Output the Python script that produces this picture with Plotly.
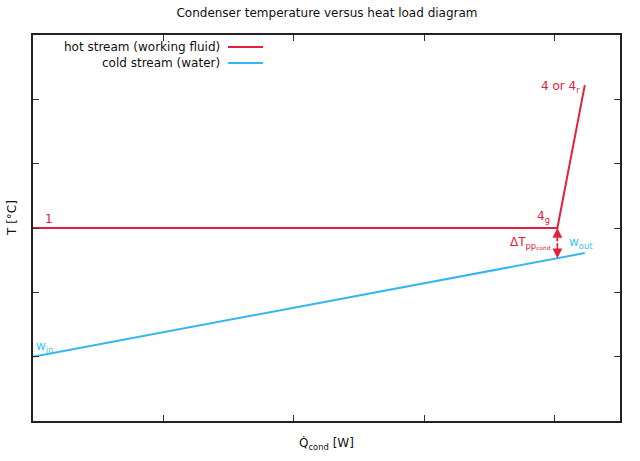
import plotly.graph_objects as go

# heat load [arbitrary units] / temperature [arbitrary units]
hot_q = [0.0, 4.02, 4.23]
hot_T = [3.0, 3.0, 5.22]
cold_q = [0.0, 4.23]
cold_T = [1.0, 2.61]
pinch_q = 4.02
pinch_T = [3.0, 2.53]

HOT = '#e3203b'
COLD = '#35b6f0'
COLD_TXT = '#3cc4ec'
FONT = 'DejaVu Sans'

# plot box in the window: x 33..620, y 35..421
PX0, PX1, PY0, PY1 = 33, 620, 35, 421
W, H = 640, 461


def px(x):
    return (x - PX0) / (PX1 - PX0)


def py(y):
    return (PY1 - y) / (PY1 - PY0)


fig = go.Figure()
fig.add_trace(go.Scatter(
    x=hot_q, y=hot_T, mode='lines', line=dict(color=HOT, width=2),
    name='hot stream (working fluid)', showlegend=False,
))
fig.add_trace(go.Scatter(
    x=cold_q, y=cold_T, mode='lines', line=dict(color=COLD, width=2),
    name='cold stream (water)', showlegend=False,
))
fig.add_trace(go.Scatter(
    x=[pinch_q, pinch_q], y=pinch_T, mode='lines',
    line=dict(color=HOT, width=1.5, dash='3px,2px'), showlegend=False,
))

# double arrow for the pinch point
mid = sum(pinch_T) / 2
for tip in pinch_T:
    fig.add_annotation(
        x=pinch_q, y=tip, ax=pinch_q, ay=mid, xref='x', yref='y', axref='x', ayref='y',
        text='', showarrow=True, arrowhead=2, arrowsize=1.3, arrowwidth=1.5, arrowcolor=HOT,
    )

labels = [
    (0.08, 3.14, '1', HOT, 'left'),
    (3.98, 3.17, '4<sub>g</sub>', HOT, 'right'),
    (4.21, 5.19, '4 or 4<sub>r</sub>', HOT, 'right'),
    (3.99, 2.77, 'ΔT<sub>pp<sub>cond</sub></sub>', HOT, 'right'),
    (4.09, 2.77, 'w<sub>out</sub>', COLD_TXT, 'left'),
    (0.01, 1.15, 'w<sub>in</sub>', COLD_TXT, 'left'),
]
for x, y, t, c, anchor in labels:
    fig.add_annotation(x=x, y=y, text=t, showarrow=False, xanchor=anchor, yanchor='middle',
                       font=dict(color=c, size=12, family=FONT))

# gnuplot-like legend: text right aligned, sample line after it
legend = [('hot stream (working fluid)', HOT), ('cold stream (water)', COLD)]
for i, (t, c) in enumerate(legend):
    yy = 47 + 16 * i
    fig.add_annotation(x=px(222), y=py(yy), xref='paper', yref='paper', text=t,
                       showarrow=False, xanchor='right', yanchor='middle',
                       font=dict(color='#111', size=12, family=FONT))
    fig.add_shape(type='line', xref='paper', yref='paper',
                  x0=px(228), x1=px(263), y0=py(yy), y1=py(yy),
                  line=dict(color=c, width=2))

# axis titles
fig.add_annotation(x=px(326), y=py(444), xref='paper', yref='paper', showarrow=False,
                   text='Q̇<sub>cond</sub> [W]', xanchor='center', yanchor='middle',
                   font=dict(color='#111', size=12, family=FONT))
fig.add_annotation(x=px(12), y=py(218), xref='paper', yref='paper', showarrow=False,
                   text='T [°C]', textangle=-90, xanchor='center', yanchor='middle',
                   font=dict(color='#111', size=12, family=FONT))

axis = dict(
    showgrid=False, zeroline=False, showline=True, linecolor='#222', linewidth=2, mirror='ticks',
    ticks='inside', ticklen=6, tickcolor='#333', tickwidth=1, showticklabels=False,
)
fig.update_layout(
    width=W, height=H, plot_bgcolor='white', paper_bgcolor='white',
    margin=dict(l=PX0, r=W - PX1, t=PY0, b=H - PY1),
    font=dict(family=FONT, size=12, color='#111'),
    title=dict(text='Condenser temperature versus heat load diagram',
               x=327 / W, y=1 - 13 / H,
               xanchor='center', yanchor='middle', font=dict(size=12)),
    xaxis=dict(axis, range=[0, 4.5], tickvals=[1, 2, 3, 4]),
    yaxis=dict(axis, range=[0, 6], tickvals=[1, 2, 3, 4, 5]),
)
fig.write_html("out.html", config={'displayModeBar': False},
               post_script="document.body.style.margin = '0';")
